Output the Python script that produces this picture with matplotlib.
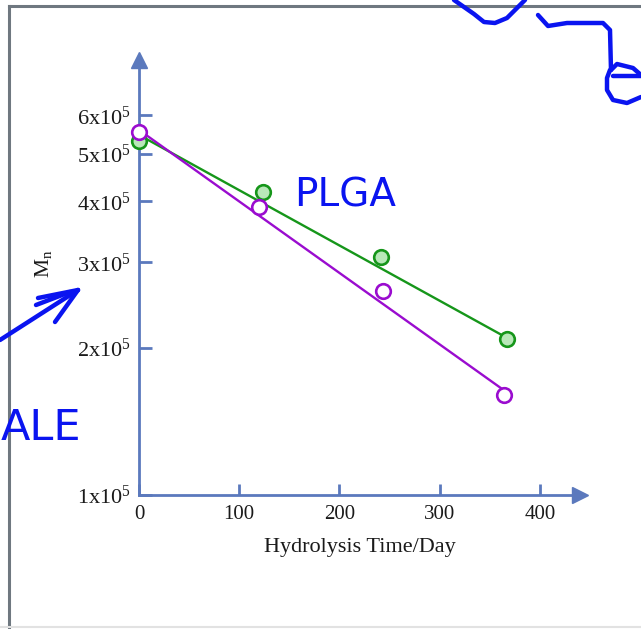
import numpy as np
import matplotlib
matplotlib.use("Agg")
import matplotlib.pyplot as plt
from matplotlib.lines import Line2D

plt.rcParams['font.family'] = ['Liberation Serif', 'DejaVu Serif']
plt.rcParams['mathtext.fontset'] = 'custom'
plt.rcParams['mathtext.rm'] = 'Liberation Serif'
plt.rcParams['mathtext.it'] = 'Liberation Serif:italic'

# ---- data ----
days_green = [0, 124, 241, 367]
mn_green = [5.31e5, 4.18e5, 3.07e5, 2.09e5]
days_purple = [0, 120, 243, 364]
mn_purple = [5.55e5, 3.89e5, 2.62e5, 1.60e5]
# fitted lines (end points)
fit_green_x = [0, 367]
fit_green_y = [5.47e5, 2.10e5]
fit_purple_x = [0, 364]
fit_purple_y = [5.60e5, 1.64e5]

x_ticks = [0, 100, 200, 300, 400]
y_ticks = [1e5, 2e5, 3e5, 4e5, 5e5, 6e5]
y_ticklabels = [r'1x10$^{5}$', r'2x10$^{5}$', r'3x10$^{5}$',
                r'4x10$^{5}$', r'5x10$^{5}$', r'6x10$^{5}$']

axis_col = '#5b79bd'
green = '#16961a'
green_face = '#b9e8b9'
purple = '#9a0ccf'
ink = '#0a14f0'

W, H = 641, 629
fig = plt.figure(figsize=(W / 100, H / 100), dpi=100)


def px(x, y):
    # pixel (top-left origin) -> figure fraction
    return x / W, 1 - y / H


# page frame
fig.add_artist(Line2D([9 / W, 1], [1 - 6 / H] * 2, color='#6f7880', lw=2.2))
fig.add_artist(Line2D([9 / W] * 2, [1 - 6 / H, 0], color='#6f7880', lw=2.2))
fig.add_artist(Line2D([0, 1], [1 - 627 / H] * 2, color='#e2e2e2', lw=1.5))

ax = fig.add_axes([139 / W, (H - 495) / H, 441 / W, 435 / H])
ax.set_yscale('log')
ax.set_xlim(0, 440)
ax.set_ylim(1e5, 7.79e5)

for s in ['top', 'right']:
    ax.spines[s].set_visible(False)
for s in ['left', 'bottom']:
    ax.spines[s].set_color(axis_col)
    ax.spines[s].set_linewidth(2)
ax.plot(1, 0, '>', color=axis_col, ms=11, transform=ax.transAxes, clip_on=False)
ax.plot(0, 1, '^', color=axis_col, ms=11, transform=ax.transAxes, clip_on=False)

ax.plot(fit_green_x, fit_green_y, color=green, lw=1.7, zorder=2)
ax.plot(fit_purple_x, fit_purple_y, color=purple, lw=1.7, zorder=2)
ax.plot(days_green, mn_green, 'o', ms=10.5, mfc=green_face, mec=green, mew=1.9,
        clip_on=False, zorder=3)
ax.plot(days_purple, mn_purple, 'o', ms=10.5, mfc='white', mec=purple, mew=1.9,
        clip_on=False, zorder=3)

ax.yaxis.set_minor_locator(matplotlib.ticker.NullLocator())
ax.set_xticks(x_ticks)
ax.set_xticklabels([str(t) for t in x_ticks])
ax.set_yticks(y_ticks)
ax.set_yticklabels(y_ticklabels)
ax.tick_params(axis='both', direction='in', color=axis_col, width=2,
               labelcolor='#1a1a1a')
ax.tick_params(axis='x', length=8, pad=7, labelsize=15)
ax.tick_params(axis='y', length=9, pad=6, labelsize=16)
ax.set_xlabel('Hydrolysis Time/Day', fontsize=16, labelpad=10, color='#1a1a1a')

fig.text(*px(43, 264), r'M$_{\rm n}$', rotation=90, fontsize=15.5,
         ha='center', va='center', color='#1a1a1a')

# hand-drawn annotations
strokes = [
    [(454, 0), (474, 14), (484, 22), (495, 23), (507, 18), (525, 0)],
    [(538, 15), (548, 26), (567, 23), (603, 23), (610, 30), (611, 70)],
    [(611, 70), (617, 64), (633, 68), (641, 75)],
    [(613, 76), (641, 76)],
    [(610, 70), (607, 78), (607, 90), (613, 100), (627, 103), (641, 97)],
    [(0, 340), (78, 290)],
    [(78, 290), (38, 298)],
    [(78, 290), (55, 322)],
    [(36, 305), (70, 292)],
]
for st in strokes:
    xs, ys = zip(*[px(x, y) for x, y in st])
    fig.add_artist(Line2D(xs, ys, color=ink, lw=3.2, solid_capstyle='round',
                          solid_joinstyle='round'))

fig.text(*px(294, 207), 'PLGA', fontsize=28, color=ink, family='DejaVu Sans',
         ha='left', va='baseline')
fig.text(*px(1, 440), 'ALE', fontsize=31, color=ink, family='DejaVu Sans',
         ha='left', va='baseline')

fig.savefig('out.png', dpi=100)
